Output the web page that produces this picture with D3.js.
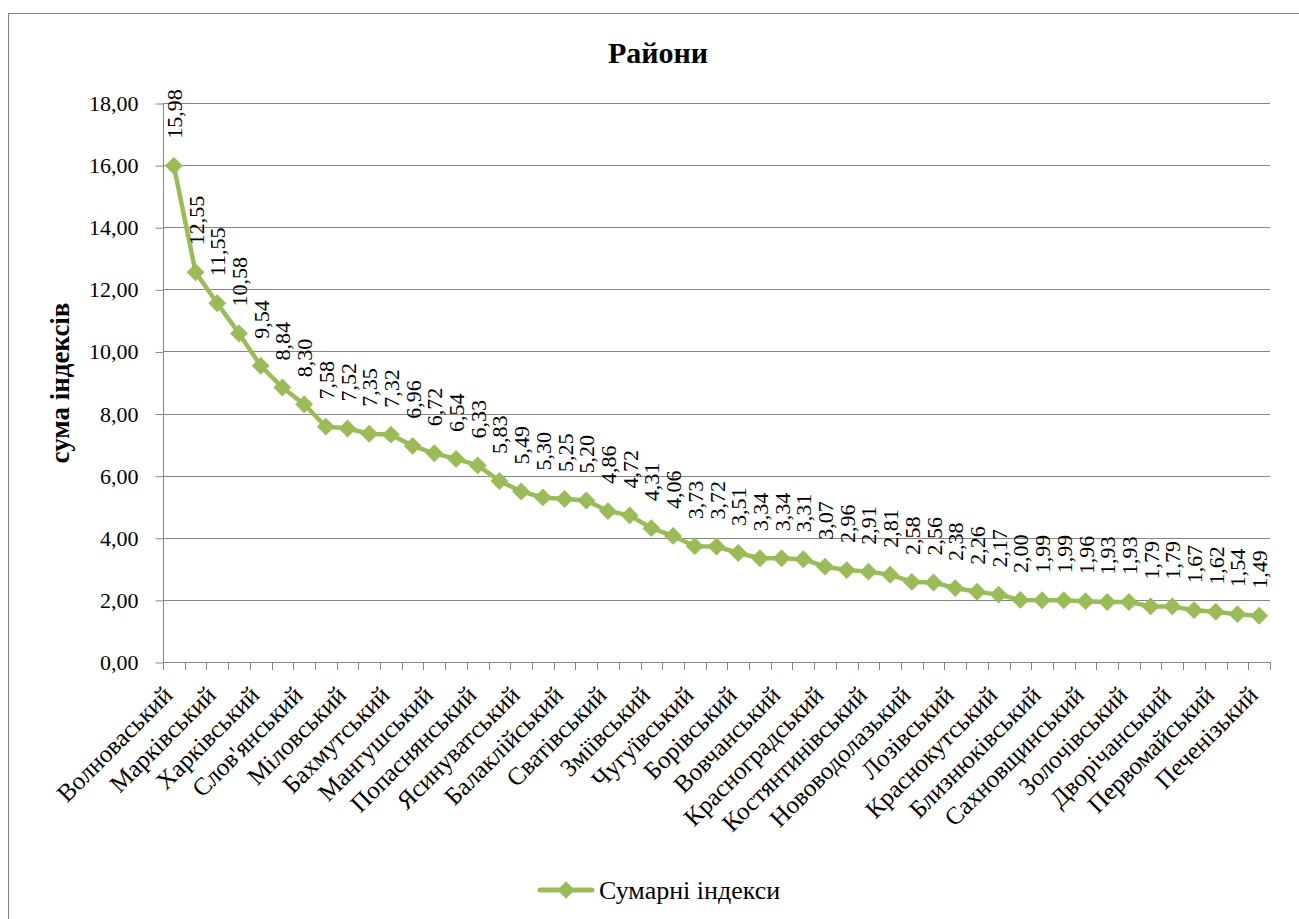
<!DOCTYPE html>
<html>
<head>
<meta charset="utf-8">
<script src="https://cdn.jsdelivr.net/npm/d3@7/dist/d3.min.js"></script>
<style>
  html, body { margin: 0; padding: 0; background: #fff; }
  svg { display: block; }
</style>
</head>
<body>
<svg id="chart" width="1299" height="919"></svg>
<script>
// ---- data ----
const categories = [
  "Волноваський", "", "Марківський", "", "Харківський", "", "Слов'янський", "",
  "Міловський", "", "Бахмутський", "", "Мангушський", "", "Попаснянський", "",
  "Ясинуватський", "", "Балаклійський", "", "Сватівський", "", "Зміївський", "",
  "Чугуївський", "", "Борівський", "", "Вовчанський", "", "Красноградський", "",
  "Костянтинівський", "", "Нововодолазький", "", "Лозівський", "", "Краснокутський", "",
  "Близнюківський", "", "Сахновщинський", "", "Золочівський", "", "Дворічанський", "",
  "Первомайський", "", "Печенізький"
];
const values = [
  15.98, 12.55, 11.55, 10.58, 9.54, 8.84, 8.30, 7.58, 7.52, 7.35,
  7.32, 6.96, 6.72, 6.54, 6.33, 5.83, 5.49, 5.30, 5.25, 5.20,
  4.86, 4.72, 4.31, 4.06, 3.73, 3.72, 3.51, 3.34, 3.34, 3.31,
  3.07, 2.96, 2.91, 2.81, 2.58, 2.56, 2.38, 2.26, 2.17, 2.00,
  1.99, 1.99, 1.96, 1.93, 1.93, 1.79, 1.79, 1.67, 1.62, 1.54, 1.49
];
const yTicks = [0, 2, 4, 6, 8, 10, 12, 14, 16, 18];
const seriesName = "Сумарні індекси";
const chartTitle = "Райони";
const yTitle = "сума індексів";

(function () {
// ---- layout ----
const FONT = "'Liberation Serif', 'Times New Roman', Tinos, 'DejaVu Serif', 'Noto Serif', serif";
const svg = d3.select("#chart");
const W = 1299, H = 919;
const pL = 163, pR = 1270, pT = 103, pB = 662;
const lineColor = "#9BBB59";
const gridColor = "#868686";
const fmt = v => v.toFixed(2).replace(".", ",");

// outer border
svg.append("rect").attr("x", 8.5).attr("y", 13.5).attr("width", W).attr("height", H)
  .attr("fill", "none").attr("stroke", "#7f7f7f").attr("stroke-width", 1);

const idx = categories.map((c, i) => i);
const x = d3.scaleBand().domain(idx).range([pL, pR]).padding(0);
const y = d3.scaleLinear().domain([0, 18]).range([pB, pT]);

// gridlines
svg.append("g").selectAll("line").data(yTicks.filter(t => t > 0)).join("line")
  .attr("x1", pL).attr("x2", pR)
  .attr("y1", d => Math.round(y(d)) + 0.5).attr("y2", d => Math.round(y(d)) + 0.5)
  .attr("stroke", gridColor).attr("stroke-width", 1);

// y axis
const yAxis = d3.axisLeft(y).tickValues(yTicks).tickFormat(fmt).tickSize(8).tickPadding(17);
const gy = svg.append("g").attr("transform", `translate(${pL + 0.5},0.5)`).call(yAxis);
gy.select(".domain").attr("stroke", gridColor).attr("d", `M0,${pB}V${pT}`);
gy.selectAll(".tick line").attr("stroke", gridColor);
gy.selectAll(".tick text").attr("font-size", 22).style("font-family", FONT).attr("fill", "#000");

// x axis
const xAxis = d3.axisBottom(x).tickSize(0).tickFormat(i => categories[i]);
const gx = svg.append("g").attr("transform", `translate(0,${pB + 0.5})`).call(xAxis);
gx.select(".domain").attr("stroke", gridColor).attr("d", `M${pL},0H${pR}`);
gx.selectAll(".tick text")
  .attr("font-size", 25).style("font-family", FONT).attr("fill", "#000")
  .attr("text-anchor", "end")
  .attr("dy", null).attr("y", 0)
  .attr("transform", "translate(-4,30) rotate(-45)")
  .attr("dominant-baseline", "middle");
// category boundary ticks
svg.append("g").selectAll("line").data(d3.range(categories.length + 1)).join("line")
  .attr("x1", d => Math.round(pL + d * x.step()) + 0.5)
  .attr("x2", d => Math.round(pL + d * x.step()) + 0.5)
  .attr("y1", pB).attr("y2", pB + 8)
  .attr("stroke", gridColor).attr("stroke-width", 1);

// line
const cx = i => x(i) + x.bandwidth() / 2;
const line = d3.line().x((d, i) => cx(i)).y(d => y(d));
svg.append("path").datum(values).attr("d", line)
  .attr("fill", "none").attr("stroke", lineColor).attr("stroke-width", 4.5).attr("stroke-linejoin", "round");

// markers
svg.append("g").selectAll("path").data(values).join("path")
  .attr("d", d3.symbol().type(d3.symbolSquare).size(160))
  .attr("transform", (d, i) => `translate(${cx(i)},${y(d)}) rotate(45)`)
  .attr("fill", lineColor);

// data labels
svg.append("g").selectAll("text").data(values).join("text")
  .attr("transform", (d, i) => `translate(${cx(i) + 8},${y(d) - 27}) rotate(-90)`)
  .attr("font-size", 22).style("font-family", FONT).attr("text-anchor", "start")
  .text(d => fmt(d));

// title
svg.append("text").attr("x", 658).attr("y", 63).attr("text-anchor", "middle")
  .style("font-family", FONT)
  .attr("font-size", 30).attr("font-weight", "bold").text(chartTitle);

// y title
svg.append("text").attr("transform", `translate(69,383) rotate(-90)`)
  .style("font-family", FONT)
  .attr("text-anchor", "middle").attr("font-size", 27).attr("font-weight", "bold").text(yTitle);

// legend
const ly = 890;
svg.append("line").attr("x1", 540).attr("x2", 592).attr("y1", ly).attr("y2", ly)
  .attr("stroke", lineColor).attr("stroke-width", 5).attr("stroke-linecap", "round");
svg.append("path").attr("d", d3.symbol().type(d3.symbolSquare).size(150))
  .attr("transform", `translate(566,${ly}) rotate(45)`).attr("fill", lineColor);
svg.append("text").attr("x", 599).attr("y", ly + 9).style("font-family", FONT)
  .attr("font-size", 26).text(seriesName);
})();
</script>
</body>
</html>
